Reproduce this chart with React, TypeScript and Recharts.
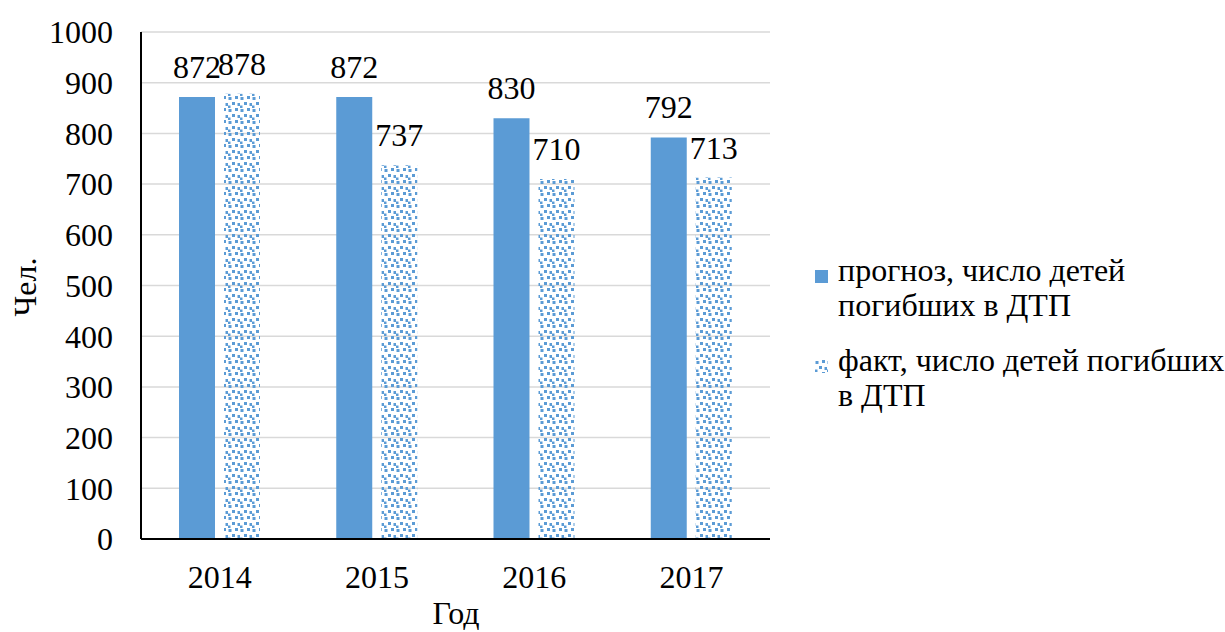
import React from "react";
import {
  BarChart,
  Bar,
  XAxis,
  YAxis,
  CartesianGrid,
  LabelList,
} from "recharts";

// years and the two series (children killed in road accidents)
const years = ["2014", "2015", "2016", "2017"];
const forecast = [872, 872, 830, 792];
const actual = [878, 737, 710, 713];
const yTicks = [0, 100, 200, 300, 400, 500, 600, 700, 800, 900, 1000];

const legendForecast = ["прогноз, число детей", "погибших в ДТП"];
const legendActual = ["факт, число детей погибших", "в ДТП"];

const data = years.map((year, i) => ({
  year,
  forecast: forecast[i],
  actual: actual[i],
}));

const BLUE = "#5B9BD5";
const FONT = "Liberation Serif, Times New Roman, serif";
const FS = 32;

// scattered small squares, like the Excel "confetti" fill
const Confetti = ({ id }: { id: string }) => (
  <pattern id={id} width={12} height={12} patternUnits="userSpaceOnUse">
    <rect x={0.5} y={1} width={3} height={3} fill={BLUE} />
    <rect x={7} y={0} width={3} height={3} fill={BLUE} />
    <rect x={4} y={6} width={3} height={3} fill={BLUE} />
    <rect x={9.5} y={7} width={2.5} height={3} fill={BLUE} />
    <rect x={0} y={9.5} width={2.5} height={2.5} fill={BLUE} />
  </pattern>
);

function LegendBox() {
  const items = [
    { lines: legendForecast, fill: BLUE, top: 253 },
    { lines: legendActual, fill: "url(#confettiLegend)", top: 343 },
  ];
  return (
    <div style={{ position: "absolute", left: 815, top: 0 }}>
      <svg width={0} height={0} style={{ position: "absolute" }}>
        <defs>
          <Confetti id="confettiLegend" />
        </defs>
      </svg>
      {items.map((it) => (
        <div
          key={it.lines[0]}
          style={{ position: "absolute", left: 0, top: it.top, display: "flex" }}
        >
          <svg width={13} height={13} style={{ marginTop: 17, marginRight: 10 }}>
            <rect width={13} height={13} fill={it.fill} />
          </svg>
          <div
            style={{
              fontFamily: FONT,
              fontSize: FS,
              lineHeight: "35px",
              color: "#000",
              whiteSpace: "nowrap",
            }}
          >
            {it.lines.map((l) => (
              <div key={l}>{l}</div>
            ))}
          </div>
        </div>
      ))}
    </div>
  );
}

export default function App() {
  return (
    <div
      style={{
        position: "absolute",
        left: 0,
        top: 0,
        width: 1225,
        height: 632,
        background: "#fff",
        overflow: "hidden",
      }}
    >
      <BarChart
        width={1225}
        height={632}
        data={data}
        margin={{ top: 32, right: 455, bottom: 0, left: 0 }}
        barGap={9}
        barSize={36}
      >
        <defs>
          <Confetti id="confettiBar" />
        </defs>
        <CartesianGrid vertical={false} stroke="#d9d9d9" strokeWidth={1.5} />
        <XAxis
          dataKey="year"
          height={93}
          tickSize={0}
          tickMargin={26}
          axisLine={{ stroke: "#000", strokeWidth: 2 }}
          tick={{ fill: "#000", fontSize: FS, fontFamily: FONT }}
        />
        <YAxis
          width={141}
          domain={[0, 1000]}
          ticks={yTicks}
          interval={0}
          tickSize={0}
          tickMargin={28}
          axisLine={{ stroke: "#000", strokeWidth: 2 }}
          tick={{ fill: "#000", fontSize: FS, fontFamily: FONT }}
        />
        <Bar dataKey="forecast" fill={BLUE} isAnimationActive={false}>
          <LabelList
            dataKey="forecast"
            position="top"
            offset={19}
            fill="#000"
            fontSize={FS}
            fontFamily={FONT}
          />
        </Bar>
        <Bar dataKey="actual" fill="url(#confettiBar)" isAnimationActive={false}>
          <LabelList
            dataKey="actual"
            position="top"
            offset={19}
            fill="#000"
            fontSize={FS}
            fontFamily={FONT}
          />
        </Bar>
        <text
          x={25}
          y={287}
          transform="rotate(-90 25 287)"
          textAnchor="middle"
          dominantBaseline="central"
          fontSize={FS}
          fontFamily={FONT}
          fill="#000"
        >
          Чел.
        </text>
        <text
          x={456}
          y={624}
          textAnchor="middle"
          fontSize={FS}
          fontFamily={FONT}
          fill="#000"
        >
          Год
        </text>
      </BarChart>
      <LegendBox />
    </div>
  );
}
